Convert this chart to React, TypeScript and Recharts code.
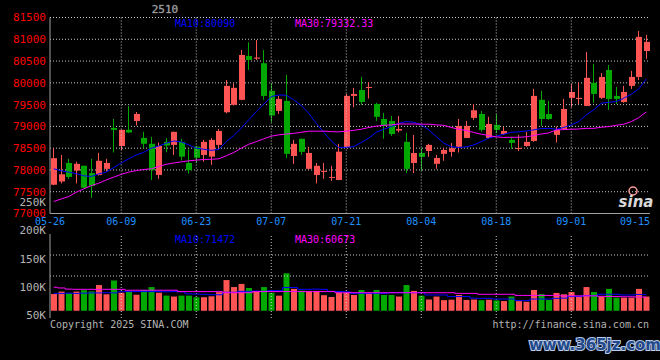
import React from 'react';
import { ComposedChart, Bar, Line, XAxis, YAxis, CartesianGrid, ReferenceLine, Cell } from 'recharts';

// ---------- data ----------
const DATES = [
  '05-26','05-27','05-28','05-29','05-30',
  '06-03','06-04','06-05','06-06','06-09','06-10','06-11','06-12','06-13',
  '06-16','06-17','06-18','06-19','06-20','06-23','06-24','06-25','06-26','06-27','06-30',
  '07-01','07-02','07-03','07-04','07-07','07-08','07-09','07-10','07-11',
  '07-14','07-15','07-16','07-17','07-18','07-21','07-22','07-23','07-24','07-25',
  '07-28','07-29','07-30','07-31','08-01','08-04','08-05','08-06','08-07','08-08',
  '08-11','08-12','08-13','08-14','08-15','08-18','08-19','08-20','08-21','08-22',
  '08-25','08-26','08-27','08-28','08-29','09-01','09-02','09-03','09-04','09-05',
  '09-08','09-09','09-10','09-11','09-12','09-15',
];

const OPEN = [
  77660,77735,78160,77985,78095,77930,77885,78025,78965,78550,
  78920,79125,78735,78600,77885,78645,78575,78645,78160,78535,
  78345,78305,78575,79325,79495,79610,80615,80555,80450,79815,
  79355,79585,78320,78715,78025,77885,77955,77820,77770,78520,
  79700,79835,79885,79515,79170,79125,78905,78645,78160,78390,
  78435,78140,78370,78415,78530,78735,79195,79285,78735,79035,
  78825,78690,78490,78550,78665,79610,79285,78805,78940,79655,
  79630,79470,80000,79655,80295,79700,79560,79930,80135,80730,
];
const HIGH = [
  78500,78345,78255,78190,78100,78255,78390,78255,79170,78930,
  79470,79330,78875,78760,78630,78730,78880,78715,78475,78550,
  78690,78730,78940,80065,79990,80755,80930,80985,80755,79990,
  79700,80180,78690,78720,78530,78160,78160,78095,78600,79745,
  79885,80135,80020,79540,79310,79240,79240,78850,78805,78500,
  78600,78345,78500,78620,79170,79125,79515,79355,79220,79285,
  78990,78760,78805,78875,79860,79815,79585,78995,79630,79975,
  80020,80710,80435,80225,80410,79905,79930,80275,81190,81100,
];
const LOW = [
  77650,77690,77795,77690,77580,77360,77870,77965,78400,78460,
  78855,79020,78500,77770,77795,78405,78345,78215,77915,78155,
  78190,78115,78500,79300,79480,79600,80295,80525,79610,79095,
  79285,78270,78140,78345,78000,77690,77795,77750,77765,78500,
  79440,79495,79640,79125,78715,78780,78860,77930,77930,77985,
  78300,78025,78210,78305,78400,78730,79150,78880,78715,78845,
  78805,78485,78435,78530,78645,79010,79150,78630,78920,79445,
  79515,79465,79540,79630,79380,79515,79540,79860,80065,80550,
];
const CLOSE = [
  78270,77900,77840,78140,77590,77635,78210,78160,78920,78920,
  78860,79285,78600,77995,78550,78560,78875,78305,77995,78280,
  78645,78690,78895,79930,79885,80640,80525,80580,79700,79250,
  79630,78370,78600,78415,78390,78095,77980,77840,78420,79700,
  79745,79560,79905,79220,79010,78825,78940,78025,78390,78300,
  78575,78275,78460,78500,79010,79010,79370,78920,79055,78920,
  78895,78620,78505,78645,79700,79170,79170,78920,79400,79790,
  79655,80115,79745,80135,79630,79630,79790,80135,81055,80940,
];
const MA10 = [
  78025,77980,77950,77915,77865,77850,77910,77950,78055,78160,
  78255,78345,78405,78500,78550,78615,78665,78645,78575,78500,
  78475,78450,78470,78650,78790,78960,79150,79340,79510,79685,
  79720,79715,79610,79480,79300,79070,78865,78665,78515,78520,
  78535,78630,78730,78865,78935,78995,79070,79110,79095,79035,
  78920,78765,78615,78535,78515,78530,78575,78650,78730,78775,
  78820,78865,78875,78895,78920,78950,78955,78935,78975,79035,
  79110,79265,79380,79530,79555,79570,79645,79740,79860,80090,
];
const MA30 = [
  77275,77335,77390,77490,77565,77640,77695,77770,77835,77900,
  77950,77985,78010,78025,78080,78130,78160,78185,78210,78225,
  78240,78245,78255,78325,78400,78500,78590,78650,78715,78775,
  78805,78825,78840,78865,78890,78890,78890,78880,78875,78890,
  78910,78935,78975,79005,79025,79035,79055,79055,79055,79050,
  79050,79035,79025,78975,78935,78905,78860,78820,78790,78760,
  78745,78750,78750,78760,78790,78825,78850,78920,78925,78935,
  78940,78955,78955,78980,78995,79025,79050,79110,79200,79332.33,
];
const VOLUME = [
  74000,85000,77000,85000,91000,86000,114000,73000,134000,80000,
  85000,71000,92000,105000,80000,67000,63000,67000,67000,60000,
  60000,64000,82000,136000,105000,119000,101000,85000,105000,80000,
  67000,166000,97000,89000,88000,88000,69000,61000,80000,80000,
  70000,92000,80000,92000,70000,70000,63000,114000,88000,67000,
  50000,63000,47000,49000,70000,48000,50000,47000,49000,46000,
  43000,63000,43000,40000,92000,74000,48000,79000,73000,83000,
  63000,105000,83000,63000,97000,58000,58000,58000,97000,63000,
];
const VOL_MA10 = [
  77000,77000,78000,77000,78000,79000,79000,80000,79000,84000,
  85000,85000,85000,85000,85000,84000,85000,84000,75000,74000,
  73000,71000,71000,82000,82000,86000,86000,87000,86000,89000,
  89000,103000,103000,95000,95000,96000,95000,86000,85000,84000,
  77000,77000,77000,77000,77000,80000,80000,80000,80000,80000,
  70000,70000,70000,63000,63000,63000,56000,55000,55000,52000,
  52000,52000,45000,45000,52000,52000,52000,55000,56000,63000,
  63000,67000,67000,73000,73000,73000,70000,70000,72000,71472,
];
const VOL_MA30 = [
  104000,101000,96000,95000,95000,95000,94000,95000,95000,95000,
  91000,91000,91000,91000,91000,91000,91000,85000,85000,85000,
  85000,85000,85000,80000,80000,80000,80000,85000,85000,85000,
  85000,85000,85000,85000,85000,85000,85000,85000,80000,80000,
  80000,80000,80000,80000,80000,80000,80000,80000,80000,80000,
  80000,80000,80000,80000,77000,77000,77000,73000,73000,73000,
  73000,73000,68000,68000,68000,68000,68000,68000,66000,66000,
  66000,66000,66000,64000,63000,63000,62000,62000,61000,60673,
];

const PRICE_TICKS = [77000,77500,78000,78500,79000,79500,80000,80500,81000,81500];
const TICK_DATES = ['05-26','06-09','06-23','07-07','07-21','08-04','08-18','09-01','09-15'];
const VOL_LABEL_TICKS = [50000,100000,150000,200000,250000];
const VOL_GRID = [154000,247000];
const PRICE_DOMAIN = [77000,81500];
const VOL_DOMAIN = [-32000,340000];
const VOL_LABEL_DOMAIN = [44700,193600];

const TITLE = '2510';
const PRICE_MA10_LABEL = 'MA10:80090';
const PRICE_MA30_LABEL = 'MA30:79332.33';
const VOL_MA10_LABEL = 'MA10:71472';
const VOL_MA30_LABEL = 'MA30:60673';

// ---------- style ----------
const MONO = "'DejaVu Sans Mono', monospace";
const UP = '#ff5454';
const DOWN = '#00a800';
const BORDER = '#a0a0a0';
const GRID = '#c8c8c8';
const DATE_COLOR = '#1e90ff';
const PRICE_COLOR = '#ff0000';
const GRAY_TEXT = '#b4b4b4';
const MA10_COLOR = '#0000ff';
const MA30_COLOR = '#ff00ff';

const data = DATES.map((date, i) => ({
  date,
  open: OPEN[i],
  high: HIGH[i],
  low: LOW[i],
  close: CLOSE[i],
  ma10: MA10[i],
  ma30: MA30[i],
  vol: VOLUME[i],
  vma10: VOL_MA10[i],
  vma30: VOL_MA30[i],
}));

function Candle(props: any) {
  const { x, y, width, height, payload } = props;
  if (x == null || y == null || !payload) return null;
  const top = Math.min(y, y + height);
  const bot = Math.max(y, y + height);
  const { open, close, high, low } = payload;
  const span = high - low || 1;
  const py = (v: number) => top + ((high - v) / span) * (bot - top);
  const color = close >= open ? UP : DOWN;
  const bTop = py(Math.max(open, close));
  const bBot = py(Math.min(open, close));
  const rx = Math.round(x);
  const cx = rx + Math.round(width) / 2 - 0.5;
  return (
    <g>
      <line x1={cx} x2={cx} y1={top} y2={bot} stroke={color} strokeWidth={1} />
      <rect x={rx} y={bTop} width={Math.round(width)} height={Math.max(1, bBot - bTop)} fill={color} />
    </g>
  );
}

function DateTick(props: any) {
  const { x, y, payload } = props;
  const v = payload.value;
  const first = v === DATES[0];
  const last = v === DATES[DATES.length - 1];
  const half = 3.75;
  return (
    <text
      x={first ? x - half : last ? x + half : x}
      y={y}
      dy={11}
      textAnchor={last ? 'end' : 'middle'}
      fill={DATE_COLOR}
      fontSize={10}
      fontFamily={MONO}
    >
      {v}
    </text>
  );
}

const kFmt = (v: number) => `${Math.round(v / 1000)}K`;

export default function App() {
  const innerDates = TICK_DATES.slice(1, -1);
  return (
    <div style={{ position: 'absolute', left: 0, top: 0, width: 660, height: 360, background: '#000', overflow: 'hidden' }}>
      {/* price panel */}
      <div style={{ position: 'absolute', left: 0, top: 0 }}>
        <ComposedChart width={660} height={360} data={data} margin={{ top: 17.5, right: 10, left: 0, bottom: 130.5 }}>
          <CartesianGrid yAxisId="p" vertical={false} stroke={GRID} strokeDasharray="1 2" />
          <XAxis
            dataKey="date"
            ticks={TICK_DATES}
            interval={0}
            height={16}
            tickLine={false}
            tickSize={0}
            tickMargin={0}
            axisLine={{ stroke: BORDER }}
            tick={<DateTick />}
          />
          <XAxis xAxisId="t" orientation="top" dataKey="date" height={0} tick={false} tickLine={false} axisLine={{ stroke: BORDER }} />
          <YAxis
            yAxisId="p"
            width={50}
            domain={PRICE_DOMAIN}
            ticks={PRICE_TICKS}
            interval={0}
            allowDataOverflow
            tickLine={false}
            tickSize={0}
            tickMargin={4}
            axisLine={{ stroke: BORDER }}
            tick={{ fill: PRICE_COLOR, fontSize: 11, fontFamily: MONO }}
          />
          <YAxis yAxisId="r" orientation="right" width={0} domain={PRICE_DOMAIN} allowDataOverflow tick={false} tickLine={false} axisLine={{ stroke: BORDER }} />
          {innerDates.map((d) => (
            <ReferenceLine key={d} x={d} yAxisId="p" stroke={GRID} strokeDasharray="1 2" />
          ))}
          <Bar yAxisId="p" dataKey={(d: any) => [d.low, d.high]} barSize={6} shape={<Candle />} isAnimationActive={false} />
          <Line yAxisId="p" type="linear" dataKey="ma10" stroke={MA10_COLOR} strokeWidth={1} dot={false} isAnimationActive={false} />
          <Line yAxisId="p" type="linear" dataKey="ma30" stroke={MA30_COLOR} strokeWidth={1} dot={false} isAnimationActive={false} />
        </ComposedChart>
      </div>

      {/* volume panel */}
      <div style={{ position: 'absolute', left: 0, top: 0 }}>
        <ComposedChart width={660} height={360} data={data} margin={{ top: 234, right: 10, left: 0, bottom: 42 }}>
          <XAxis dataKey="date" height={0} tick={false} tickLine={false} axisLine={{ stroke: BORDER }} />
          <XAxis xAxisId="t" orientation="top" dataKey="date" height={0} tick={false} tickLine={false} axisLine={{ stroke: BORDER }} />
          <YAxis
            yAxisId="lbl"
            width={50}
            domain={VOL_LABEL_DOMAIN}
            ticks={VOL_LABEL_TICKS}
            interval={0}
            allowDataOverflow
            tickLine={false}
            tickSize={0}
            tickMargin={4}
            tickFormatter={kFmt}
            axisLine={{ stroke: BORDER }}
            tick={{ fill: GRAY_TEXT, fontSize: 11, fontFamily: MONO }}
          />
          <YAxis yAxisId="v" hide domain={VOL_DOMAIN} allowDataOverflow />
          <YAxis yAxisId="r" orientation="right" width={0} domain={VOL_DOMAIN} allowDataOverflow tick={false} tickLine={false} axisLine={{ stroke: BORDER }} />
          {VOL_GRID.map((v) => (
            <ReferenceLine key={v} y={v} yAxisId="v" stroke={GRID} strokeDasharray="1 2" />
          ))}
          {innerDates.map((d) => (
            <ReferenceLine key={d} x={d} yAxisId="v" stroke={GRID} strokeDasharray="1 2" />
          ))}
          <Bar yAxisId="v" dataKey="vol" barSize={6} isAnimationActive={false}>
            {data.map((d, i) => (
              <Cell key={i} fill={d.close >= d.open ? UP : DOWN} />
            ))}
          </Bar>
          <Line yAxisId="v" type="step" dataKey="vma10" stroke={MA10_COLOR} strokeWidth={1} dot={false} isAnimationActive={false} />
          <Line yAxisId="v" type="step" dataKey="vma30" stroke={MA30_COLOR} strokeWidth={1} dot={false} isAnimationActive={false} />
        </ComposedChart>
      </div>

      {/* texts */}
      <svg width={660} height={360} style={{ position: 'absolute', left: 0, top: 0, pointerEvents: 'none' }}>
        <text x={165} y={13} textAnchor="middle" fontSize={11} fontFamily={MONO} fill="#c8c8c8" stroke="#707070" strokeWidth={0.4}>{TITLE}</text>
        <text x={175} y={27} fontSize={10} fontFamily={MONO} fill={MA10_COLOR}>{PRICE_MA10_LABEL}</text>
        <text x={295} y={27} fontSize={10} fontFamily={MONO} fill={MA30_COLOR}>{PRICE_MA30_LABEL}</text>
        <text x={175} y={242.5} fontSize={10} fontFamily={MONO} fill={MA10_COLOR}>{VOL_MA10_LABEL}</text>
        <text x={295} y={242.5} fontSize={10} fontFamily={MONO} fill={MA30_COLOR}>{VOL_MA30_LABEL}</text>
        <text x={50} y={327.5} fontSize={10} fontFamily={MONO} fill={GRAY_TEXT}>Copyright 2025 SINA.COM</text>
        <text x={649} y={327.5} textAnchor="end" fontSize={10} fontFamily={MONO} fill={GRAY_TEXT}>http://finance.sina.com.cn</text>
        <circle cx={633} cy={191} r={4} fill="none" stroke="#ff9a9a" strokeWidth={1.5} />
        <text x={636} y={207} textAnchor="middle" fontSize={15} fontStyle="italic" fontWeight="bold" fontFamily="'DejaVu Sans', sans-serif" fill="#d8d8d8">sina</text>
        <text x={595} y={350} textAnchor="middle" fontSize={15} fontWeight="bold" fontFamily="'DejaVu Sans', sans-serif" fill="#23498a" stroke="#b8cbe8" strokeWidth={2} paintOrder="stroke">www.365jz.com</text>
      </svg>
    </div>
  );
}
